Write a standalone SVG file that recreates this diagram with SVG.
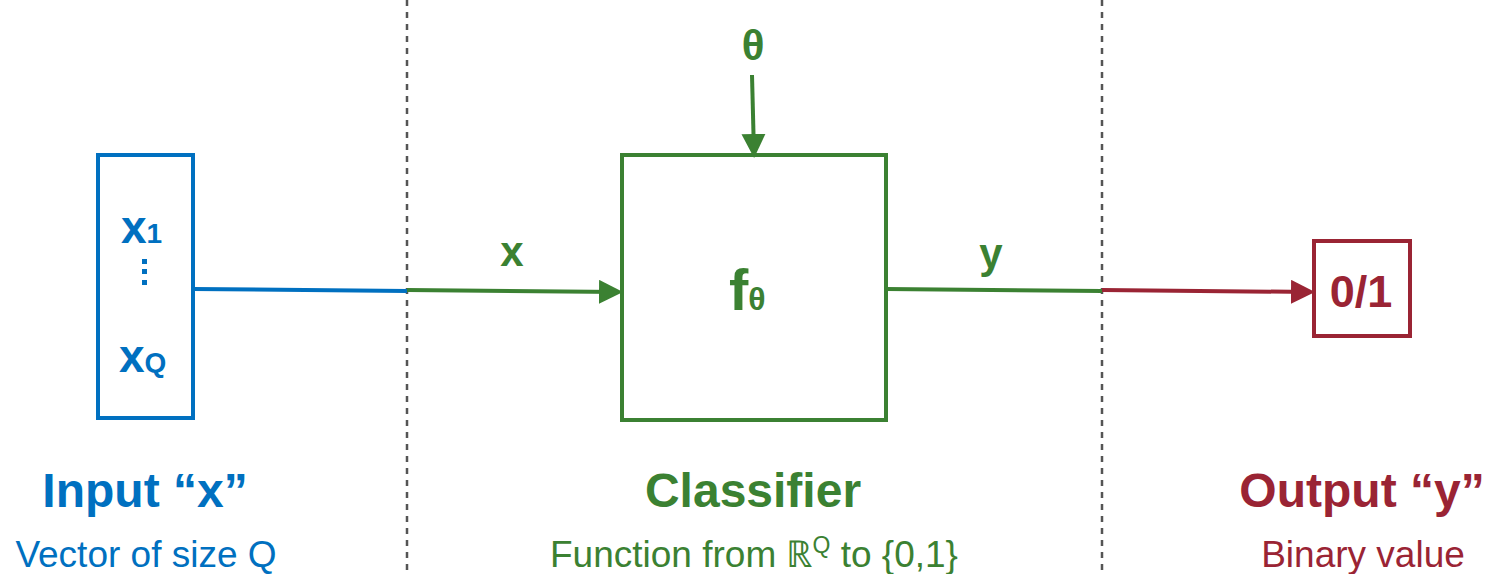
<svg xmlns="http://www.w3.org/2000/svg" width="1491" height="574" viewBox="0 0 1491 574">
<style>
text{font-family:"Liberation Sans",Arial,sans-serif}
.b{fill:#0070C0}.g{fill:#3B8132}.r{fill:#9A2434}
.bold{font-weight:bold}
.div{stroke:#555;stroke-width:2.5;stroke-dasharray:6,6}
</style>
<defs>
<marker id="ag" markerWidth="6" markerHeight="6" refX="5" refY="3" orient="auto" markerUnits="strokeWidth"><path d="M0,0L6,3L0,6z" fill="#3B8132"/></marker>
<marker id="ar" markerWidth="6" markerHeight="6" refX="5" refY="3" orient="auto" markerUnits="strokeWidth"><path d="M0,0L6,3L0,6z" fill="#9A2434"/></marker>
</defs>
<g id="dividers">
<line class="div" x1="407" y1="0" x2="407" y2="574"/>
<line class="div" x1="1102" y1="0" x2="1102" y2="574"/>
</g>
<g id="connectors" fill="none" stroke-width="4">
<line x1="193" y1="289" x2="407" y2="291" stroke="#0070C0"/>
<line x1="407" y1="290" x2="619" y2="292" stroke="#3B8132" marker-end="url(#ag)"/>
<line x1="752" y1="75" x2="754" y2="154" stroke="#3B8132" marker-end="url(#ag)"/>
<line x1="886" y1="289" x2="1102" y2="291" stroke="#3B8132"/>
<line x1="1102" y1="290" x2="1311" y2="292" stroke="#9A2434" marker-end="url(#ar)"/>
</g>
<g id="input">
<rect x="98" y="155" width="95" height="263" fill="none" stroke="#0070C0" stroke-width="4"/>
<text x="121" y="243" class="b bold" font-size="46">x<tspan font-size="28">1</tspan></text>
<g class="b"><rect x="142" y="259" width="5" height="5"/><rect x="142" y="269" width="5" height="5"/><rect x="142" y="280" width="5" height="5"/></g>
<text x="119" y="372" class="b bold" font-size="46">x<tspan font-size="28">Q</tspan></text>
<text x="145" y="507" text-anchor="middle" class="b bold" font-size="48">Input “x”</text>
<text x="146" y="567" text-anchor="middle" class="b" font-size="37">Vector of size Q</text>
</g>
<g id="classifier">
<rect x="622" y="155" width="264" height="265" fill="none" stroke="#3B8132" stroke-width="4"/>
<text x="753" y="60" text-anchor="middle" class="g bold" font-size="42">θ</text>
<text x="512" y="266" text-anchor="middle" class="g bold" font-size="42">x</text>
<text x="991" y="268" text-anchor="middle" class="g bold" font-size="42">y</text>
<text x="729" y="310" class="g bold" font-size="58">f<tspan font-size="32">θ</tspan></text>
<text x="753" y="507" text-anchor="middle" class="g bold" font-size="48">Classifier</text>
<text x="754" y="567" text-anchor="middle" class="g" font-size="37">Function from ℝ<tspan font-size="23" dy="-14">Q</tspan><tspan dy="14"> to {0,1}</tspan></text>
</g>
<g id="output">
<rect x="1314" y="241" width="96" height="95" fill="none" stroke="#9A2434" stroke-width="4"/>
<text x="1361" y="307" text-anchor="middle" class="r bold" font-size="45">0/1</text>
<text x="1362" y="507" text-anchor="middle" class="r bold" font-size="48">Output “y”</text>
<text x="1363" y="567" text-anchor="middle" class="r" font-size="37">Binary value</text>
</g>
</svg>
